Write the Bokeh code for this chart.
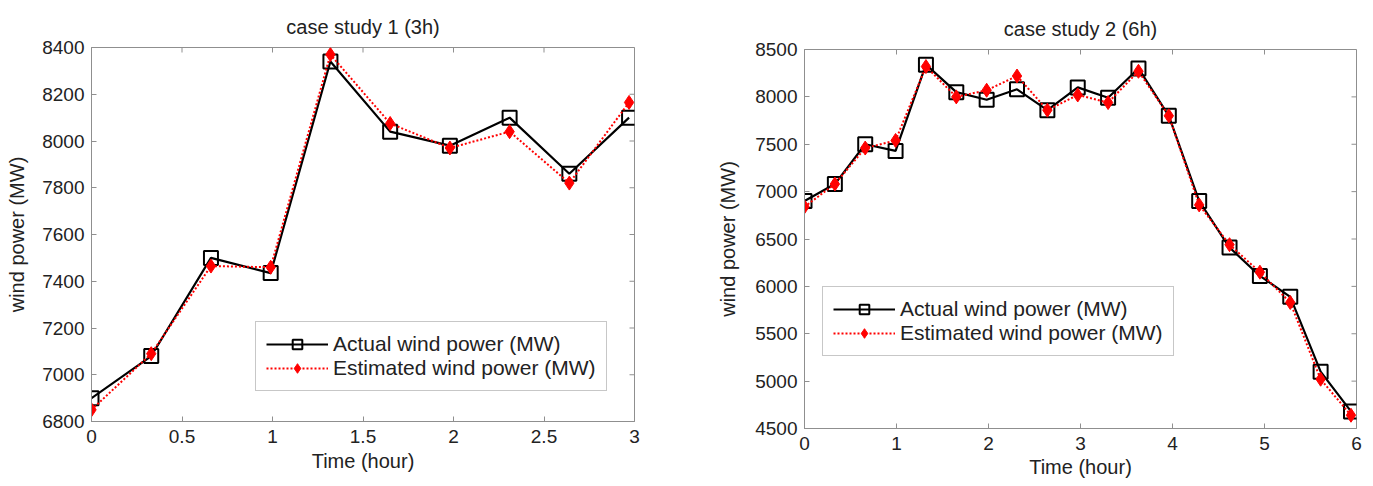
import math
from bokeh.plotting import figure
from bokeh.layouts import row, column
from bokeh.models import Range1d, FixedTicker
from bokeh.embed import file_html
from bokeh.resources import INLINE

# ---- data: case study 1 (3h) ----
t1 = [0, 0.33, 0.66, 0.99, 1.32, 1.65, 1.98, 2.31, 2.64, 2.97]
actual1 = [6900, 7080, 7500, 7435, 8340, 8040, 7980, 8100, 7860, 8100]
est1 = [6850, 7090, 7465, 7460, 8370, 8075, 7970, 8040, 7820, 8165]
xticks1 = [0, 0.5, 1, 1.5, 2, 2.5, 3]
yticks1 = [6800, 7000, 7200, 7400, 7600, 7800, 8000, 8200, 8400]

# ---- data: case study 2 (6h) ----
t2 = [0, 0.33, 0.66, 0.99, 1.32, 1.65, 1.98, 2.31, 2.64, 2.97,
      3.30, 3.63, 3.96, 4.29, 4.62, 4.95, 5.28, 5.61, 5.94]
actual2 = [6900, 7080, 7500, 7430, 8340, 8050, 7970, 8080, 7860, 8100,
           7990, 8300, 7800, 6900, 6410, 6110, 5890, 5100, 4680]
est2 = [6840, 7080, 7460, 7540, 8320, 8000, 8070, 8220, 7860, 8020,
        7940, 8270, 7800, 6860, 6440, 6150, 5830, 5020, 4640]
xticks2 = [0, 1, 2, 3, 4, 5, 6]
yticks2 = [4500, 5000, 5500, 6000, 6500, 7000, 7500, 8000, 8500]

FONT = "Liberation Sans"
AXC = "#8f8f8f"
TXT = "#222222"


def style_axis(ax, ticks, std, lab_std):
    ax.ticker = FixedTicker(ticks=ticks)
    ax.minor_tick_line_color = None
    ax.major_tick_in = 5
    ax.major_tick_out = 0
    ax.major_tick_line_color = AXC
    ax.axis_line_color = AXC
    ax.major_label_text_font = FONT
    ax.major_label_text_font_size = "19px"
    ax.major_label_text_color = TXT
    ax.major_label_standoff = std
    ax.axis_label_text_font = FONT
    ax.axis_label_text_font_size = "20px"
    ax.axis_label_text_font_style = "normal"
    ax.axis_label_text_color = TXT
    ax.axis_label_standoff = lab_std


def make(title, t, a, e, xr, yr, xt, yt, w, borders, ystd, xstd, leg_loc):
    bl, br, bt, bb = borders
    p = figure(width=w, height=486, output_backend="svg", toolbar_location=None,
               x_range=Range1d(*xr), y_range=Range1d(*yr),
               min_border_left=bl, min_border_right=br,
               min_border_top=bt, min_border_bottom=bb)
    p.title.text = title
    p.title.text_font = FONT
    p.title.text_font_size = "20px"
    p.title.text_font_style = "normal"
    p.title.text_color = TXT
    p.title.align = "center"
    p.title.standoff = 20
    p.xgrid.grid_line_color = None
    p.ygrid.grid_line_color = None
    p.outline_line_color = AXC
    p.background_fill_color = "white"
    p.border_fill_color = "white"

    p.xaxis.axis_label = "Time (hour)"
    p.yaxis.axis_label = "wind power (MW)"
    style_axis(p.xaxis[0], xt, xstd[0], xstd[1])
    style_axis(p.yaxis[0], yt, 7, ystd)

    # mirrored inward ticks on top and right edges (MATLAB box style)
    p.ray(x=xt, y=[yr[1]] * len(xt), length=5, length_units="screen",
          angle=-math.pi / 2, line_color=AXC, line_width=1)
    p.ray(x=[xr[1]] * len(yt), y=yt, length=5, length_units="screen",
          angle=math.pi, line_color=AXC, line_width=1)

    lab_a = "Actual wind power (MW)"
    lab_e = "Estimated wind power (MW)"
    p.line(t, a, line_color="black", line_width=2.2, legend_label=lab_a)
    p.scatter(t, a, marker="square", size=14, line_color="black", line_width=2,
              fill_color=None, legend_label=lab_a)
    p.line(t, e, line_color="#ff0000", line_width=2, line_dash="2 2",
           legend_label=lab_e)
    p.scatter(t, e, marker="diamond", size=14, line_color="#ff0000",
              fill_color="#ff0000", legend_label=lab_e)

    lg = p.legend[0]
    lg.location = leg_loc
    lg.border_line_color = AXC
    lg.border_line_width = 1
    lg.background_fill_color = "white"
    lg.background_fill_alpha = 1
    lg.label_text_font = FONT
    lg.label_text_font_size = "21px"
    lg.label_text_color = TXT
    lg.glyph_width = 62
    lg.glyph_height = 24
    lg.label_height = 24
    lg.label_standoff = 5
    lg.padding = 10
    lg.spacing = 0
    lg.margin = 0
    return p


p1 = make("case study 1 (3h)", t1, actual1, est1, (0, 3), (6800, 8400),
          xticks1, yticks1, 700, (91, 66, 47, 65), 11, (8, 4), (164, 30))
p2 = make("case study 2 (6h)", t2, actual2, est2, (0, 6), (4500, 8500),
          xticks2, yticks2, 673, (104, 17, 49, 58), 13, (8, 3), (18, 72))

layout = row(column(p1), column(p2))
open("out.html", "w").write(file_html(layout, INLINE))
